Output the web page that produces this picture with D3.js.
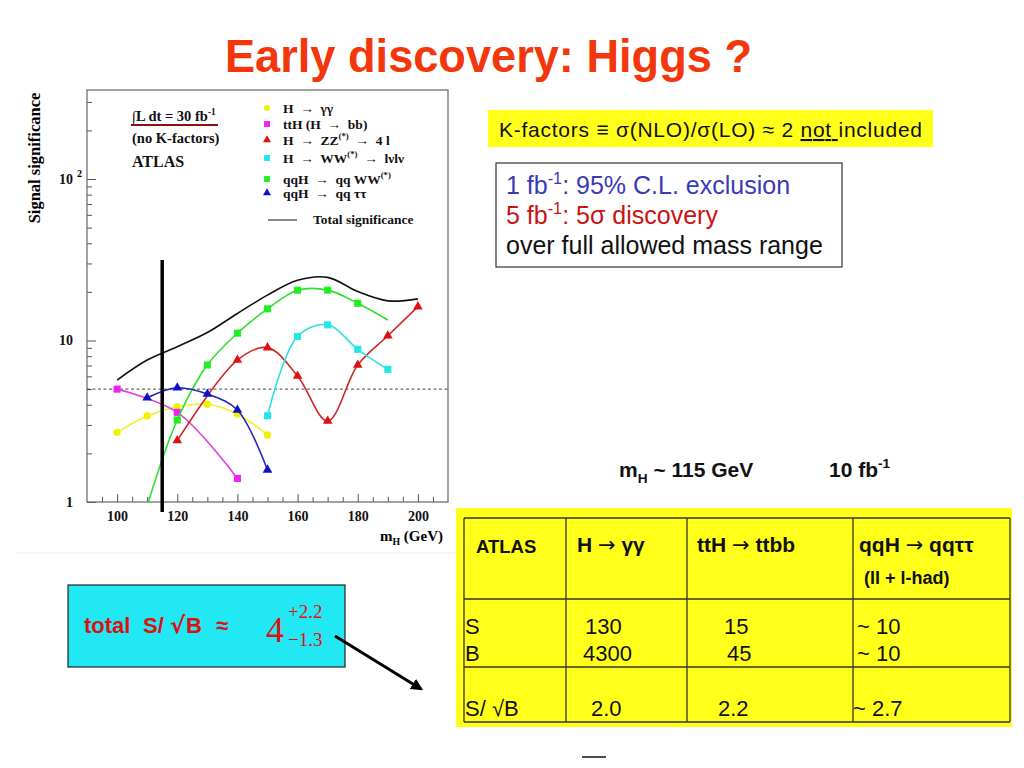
<!DOCTYPE html>
<html>
<head>
<meta charset="utf-8">
<script src="https://cdn.jsdelivr.net/npm/d3@7"></script>
<style>
  body { margin: 0; background: #fff; }
  svg { display: block; }
  text { white-space: pre; }
</style>
</head>
<body>
<svg id="slide" width="1024" height="768"></svg>
<script>
// signal significance vs m_H (30 fb-1)
var massGamma = [100, 110, 120, 130, 140, 150];
var sigGamma = [2.70, 3.41, 3.89, 4.03, 3.51, 2.60];

var massTtH = [100, 120, 140];
var sigTtH = [5.0, 3.59, 1.40];

var massZZ = [120, 140, 150, 160, 170, 180, 190, 200];
var sigZZ = [2.40, 7.57, 9.03, 6.03, 3.17, 7.05, 10.7, 16.2];

var massWW = [150, 160, 170, 180, 190];
var sigWW = [3.42, 10.6, 12.5, 8.82, 6.63];

var massVbfWW = [110, 120, 130, 140, 150, 160, 170, 180, 190];
var sigVbfWW = [0.95, 3.22, 7.05, 11.1, 15.7, 20.5, 20.5, 17.0, 13.4];

var massVbfTau = [110, 120, 130, 140, 150];
var sigVbfTau = [4.42, 5.10, 4.66, 3.71, 1.58];

var massTotal = [100, 110, 120, 130, 140, 150, 160, 170, 180, 190, 200];
var sigTotal = [5.69, 7.57, 9.16, 11.2, 14.7, 19.1, 23.6, 24.6, 20.1, 17.6, 18.1];

var discoveryLevel = 5;
var lepMassLimit = 115;

var xTickLabels = [100, 120, 140, 160, 180, 200];
var yTickLabels = [1, 10, 100];

// table on the right
var tableHead = [["ATLAS"], ["H ", ["\u2192", "sym"], [" \u03b3\u03b3", "n"]], ["ttH ", ["\u2192", "sym"], [" ttbb", "n"]],
                 ["qqH ", ["\u2192", "sym"], [" qq\u03c4\u03c4", "n"]]];
var rowS = ["130", "15", "~ 10"];
var rowB = ["4300", "45", "~ 10"];
var rowSoverB = ["2.0", "2.2", "~ 2.7"];

var svg = d3.select("#slide");
var sans = "Liberation Sans, Arial, Helvetica, sans-serif";
var serif = "Liberation Serif, Times New Roman, serif";

// small helper: text with super/subscripts
function richText(g, x, y, parts, fs) {
    var t = g.append("text").attr("x", x).attr("y", y).attr("font-size", fs);
    var shift = 0;
    parts.forEach(function(p) {
        var str = typeof p === "string" ? p : p[0];
        var mode = typeof p === "string" ? "n" : p[1];
        var target = mode == "sup" ? -fs * 0.42 : mode == "sub" ? fs * 0.28 : 0;
        var ts = t.append("tspan").attr("dy", target - shift).text(str);
        if (mode == "sup" || mode == "sub") ts.attr("font-size", fs * 0.65);
        if (mode == "u") ts.attr("text-decoration", "underline");
        if (mode == "sym") ts.attr("font-family", "DejaVu Sans").attr("font-weight", "normal");
        shift = target;
    });
    return t;
}

// title
svg.append("text")
    .attr("x", 225).attr("y", 72)
    .attr("font-family", sans).attr("font-weight", "bold")
    .attr("font-size", 46).attr("fill", "#f4360c")
    .attr("textLength", 527).attr("lengthAdjust", "spacingAndGlyphs")
    .text("Early discovery: Higgs ?");

// faint edge of the pasted plot
svg.append("line").attr("x1", 15).attr("x2", 455).attr("y1", 553).attr("y2", 553)
    .attr("stroke", "#ececec");

//Plot area
var pL = 87, pR = 448, pT = 90, pB = 502;
var x = d3.scaleLinear().domain([90, 210]).range([pL, pR]);
var y = d3.scaleLog().domain([1, Math.pow(10, (pB - pT) / 161.5)]).range([pB, pT]);

var plot = svg.append("g").attr("id", "plot");

svg.append("clipPath").attr("id", "clip")
    .append("rect").attr("x", pL).attr("y", pT).attr("width", pR - pL).attr("height", pB - pT);

// x ticks (inside)
var xMinor = d3.range(95, 210, 5).filter(function(d) { return d % 20 != 0; });
plot.append("g").attr("transform", "translate(0," + pB + ")")
    .call(d3.axisBottom(x).tickValues(xMinor).tickSize(-5).tickFormat(""))
    .call(function(g) { g.select(".domain").remove(); g.selectAll("line").attr("stroke", "#555"); });
plot.append("g").attr("transform", "translate(0," + pB + ")")
    .call(d3.axisBottom(x).tickValues(xTickLabels).tickSize(-8).tickPadding(9).tickFormat(d3.format("d")))
    .call(function(g) {
        g.select(".domain").remove();
        g.selectAll("line").attr("stroke", "#555");
        g.selectAll("text").attr("font-family", serif).attr("font-weight", "bold")
            .attr("font-size", 14).attr("fill", "#111");
    });

// y ticks (log, inside)
var yMinor = [];
[1, 10, 100].forEach(function(dec) {
    for (var k = 2; k <= 9; k++) if (dec * k < y.domain()[1]) yMinor.push(dec * k);
});
plot.append("g").attr("transform", "translate(" + pL + ",0)")
    .call(d3.axisLeft(y).tickValues(yMinor).tickSize(-5).tickFormat(""))
    .call(function(g) { g.select(".domain").remove(); g.selectAll("line").attr("stroke", "#555"); });
plot.append("g").attr("transform", "translate(" + pL + ",0)")
    .call(d3.axisLeft(y).tickValues(yTickLabels).tickSize(-9).tickPadding(14)
        .tickFormat(function(d) { return d == 100 ? "10" : d3.format("d")(d); }))
    .call(function(g) {
        g.select(".domain").remove();
        g.selectAll("line").attr("stroke", "#555");
        g.selectAll("text").attr("font-family", serif).attr("font-weight", "bold")
            .attr("font-size", 14).attr("fill", "#111");
    });
plot.append("text").attr("x", 77).attr("y", y(100) - 2)
    .attr("font-family", serif).attr("font-weight", "bold").attr("font-size", 10)
    .text("2");

plot.append("rect").attr("x", pL).attr("y", pT).attr("width", pR - pL).attr("height", pB - pT)
    .attr("fill", "none").attr("stroke", "#666").attr("stroke-width", 1.2);

// axis titles
plot.append("text")
    .attr("transform", "translate(40,158) rotate(-90)")
    .attr("text-anchor", "middle")
    .attr("font-family", serif).attr("font-weight", "bold").attr("font-size", 16.5)
    .text("Signal significance");
richText(plot, 380, 541, ["m", ["H", "sub"], " (GeV)"], 15)
    .attr("font-family", serif).attr("font-weight", "bold");

// 5 sigma line
plot.append("line")
    .attr("x1", pL).attr("x2", pR).attr("y1", y(discoveryLevel)).attr("y2", y(discoveryLevel))
    .attr("stroke", "#333").attr("stroke-width", 0.9).attr("stroke-dasharray", "3,2.5");

var series = [
    {mass: massGamma, sig: sigGamma, line: "#f0f030", fill: "#f2f200", shape: d3.symbolCircle, size: 42},
    {mass: massTtH, sig: sigTtH, line: "#e040e0", fill: "#f020f0", shape: d3.symbolSquare, size: 50},
    {mass: massZZ, sig: sigZZ, line: "#d02828", fill: "#e01010", shape: d3.symbolTriangle, size: 40},
    {mass: massWW, sig: sigWW, line: "#30e0e0", fill: "#20e8e8", shape: d3.symbolSquare, size: 50},
    {mass: massVbfWW, sig: sigVbfWW, line: "#30dd30", fill: "#20ee20", shape: d3.symbolSquare, size: 50, hide: [190]},
    {mass: massVbfTau, sig: sigVbfTau, line: "#2424b8", fill: "#1010cc", shape: d3.symbolTriangle, size: 40}
];

var lineGen = d3.line()
    .x(function(d) { return x(d[0]); })
    .y(function(d) { return y(d[1]); })
    .curve(d3.curveCatmullRom.alpha(0.5));

var curves = plot.append("g").attr("clip-path", "url(#clip)");

curves.append("path")
    .datum(d3.zip(massTotal, sigTotal))
    .attr("d", lineGen).attr("fill", "none")
    .attr("stroke", "#111").attr("stroke-width", 1.6);

series.forEach(function(s) {
    var pts = d3.zip(s.mass, s.sig);
    curves.append("path").datum(pts).attr("d", lineGen)
        .attr("fill", "none").attr("stroke", s.line).attr("stroke-width", 1.6);
    curves.selectAll(null)
        .data(pts.filter(function(p) { return !(s.hide && s.hide.indexOf(p[0]) >= 0); }))
        .enter().append("path")
        .attr("transform", function(p) { return "translate(" + x(p[0]) + "," + y(p[1]) + ")"; })
        .attr("d", d3.symbol().type(s.shape).size(s.size))
        .attr("fill", s.fill);
});

// LEP limit bar
plot.append("line")
    .attr("x1", x(lepMassLimit)).attr("x2", x(lepMassLimit))
    .attr("y1", 260).attr("y2", 512)
    .attr("stroke", "#000").attr("stroke-width", 3.5);

// legend
var leg = plot.append("g").attr("font-family", serif).attr("font-weight", "bold").attr("fill", "#111");
var legRows = [
    {y: 108, parts: ["H  \u2192  \u03b3\u03b3"]},
    {y: 124, parts: ["ttH (H  \u2192  bb)"]},
    {y: 140, parts: ["H  \u2192  ZZ", ["(*)", "sup"], ["  \u2192  4 l", "n"]]},
    {y: 158, parts: ["H  \u2192  WW", ["(*)", "sup"], ["  \u2192  l\u03bdl\u03bd", "n"]]},
    {y: 179, parts: ["qqH  \u2192  qq WW", ["(*)", "sup"]]},
    {y: 193, parts: ["qqH  \u2192  qq \u03c4\u03c4"]}
];
legRows.forEach(function(r, i) {
    leg.append("path")
        .attr("transform", "translate(267," + r.y + ")")
        .attr("d", d3.symbol().type(series[i].shape).size(series[i].size * 0.7))
        .attr("fill", series[i].fill);
    richText(leg, 283, r.y + 4.5, r.parts, 13.5);
});
leg.append("line").attr("x1", 268).attr("x2", 297).attr("y1", 220).attr("y2", 220)
    .attr("stroke", "#111").attr("stroke-width", 1);
leg.append("text").attr("x", 313).attr("y", 224).attr("font-size", 13.5).text("Total significance");

var info = plot.append("g").attr("font-family", serif).attr("font-weight", "bold").attr("fill", "#111");
richText(info, 132, 121, ["\u222bL dt = 30 fb", ["-1", "sup"]], 14.5);
info.append("line").attr("x1", 131).attr("x2", 218).attr("y1", 125).attr("y2", 125)
    .attr("stroke", "#8b1010").attr("stroke-width", 2.2);
info.append("text").attr("x", 132).attr("y", 143).attr("font-size", 14.5).text("(no K-factors)");
info.append("text").attr("x", 132).attr("y", 167).attr("font-size", 16).text("ATLAS");

// K-factor note
svg.append("rect").attr("x", 488).attr("y", 110).attr("width", 445).attr("height", 37).attr("fill", "#ffff1a");
richText(svg, 499, 137, ["K-factors \u2261 \u03c3(NLO)/\u03c3(LO) \u2248 2 ", ["not ", "u"], ["included", "n"]], 21)
    .attr("font-family", sans).attr("fill", "#111")
    .attr("textLength", 423).attr("lengthAdjust", "spacing");

// luminosity box
svg.append("rect").attr("x", 496).attr("y", 163).attr("width", 346).attr("height", 104)
    .attr("fill", "#fff").attr("stroke", "#333").attr("stroke-width", 1.2);
richText(svg, 506, 194, ["1 fb", ["-1", "sup"], [": 95% C.L. exclusion", "n"]], 25)
    .attr("font-family", sans).attr("fill", "#3a3ab8");
richText(svg, 506, 224, ["5 fb", ["-1", "sup"], [": 5\u03c3 discovery", "n"]], 25)
    .attr("font-family", sans).attr("fill", "#cc1111");
svg.append("text").attr("x", 506).attr("y", 254).attr("font-family", sans).attr("font-size", 25)
    .attr("fill", "#111").text("over full allowed mass range");

// m_H ~ 115 GeV, 10 fb-1
richText(svg, 619, 477, ["m", ["H", "sub"], [" ~ 115 GeV", "n"]], 21)
    .attr("font-family", sans).attr("font-weight", "bold").attr("fill", "#111");
richText(svg, 829, 477, ["10 fb", ["-1", "sup"]], 21)
    .attr("font-family", sans).attr("font-weight", "bold").attr("fill", "#111");

// table
var tab = svg.append("g").attr("font-family", sans).attr("fill", "#111");
tab.append("rect").attr("x", 456).attr("y", 508).attr("width", 556).attr("height", 219).attr("fill", "#ffff1a");
var colX = [464, 566, 687, 853, 1010];
var rowY = [518, 599, 667, 722];
rowY.forEach(function(ry) {
    tab.append("line").attr("x1", colX[0]).attr("x2", colX[4]).attr("y1", ry).attr("y2", ry)
        .attr("stroke", "#333").attr("stroke-width", 1.3);
});
colX.forEach(function(cx) {
    tab.append("line").attr("x1", cx).attr("x2", cx).attr("y1", rowY[0]).attr("y2", rowY[3])
        .attr("stroke", "#333").attr("stroke-width", 1.3);
});
var headX = [476, 577, 697, 859];
tableHead.forEach(function(h, i) {
    richText(tab, headX[i], i == 0 ? 553 : 552, h, i == 0 ? 18.5 : 21).attr("font-weight", "bold");
});
tab.append("text").attr("x", 864).attr("y", 584).attr("font-weight", "bold").attr("font-size", 18)
    .text("(ll + l-had)");

tab.append("text").attr("x", 465).attr("y", 634).attr("font-size", 22).text("S");
tab.append("text").attr("x", 465).attr("y", 661).attr("font-size", 22).text("B");
tab.append("text").attr("x", 465).attr("y", 716).attr("font-size", 22).text("S/ \u221aB");
var sX = [585, 724, 857], bX = [583, 727, 857], rX = [591, 718, 853];
rowS.forEach(function(v, i) { tab.append("text").attr("x", sX[i]).attr("y", 634).attr("font-size", 22).text(v); });
rowB.forEach(function(v, i) { tab.append("text").attr("x", bX[i]).attr("y", 661).attr("font-size", 22).text(v); });
rowSoverB.forEach(function(v, i) { tab.append("text").attr("x", rX[i]).attr("y", 716).attr("font-size", 22).text(v); });

svg.append("line").attr("x1", 582).attr("x2", 606).attr("y1", 757).attr("y2", 757)
    .attr("stroke", "#111").attr("stroke-width", 1.5);

// total S/sqrt(B) box
svg.append("rect").attr("x", 68).attr("y", 585).attr("width", 277).attr("height", 82)
    .attr("fill", "#22e8f4").attr("stroke", "#222").attr("stroke-width", 1.2);
var tot = svg.append("g").attr("font-family", sans).attr("font-weight", "bold")
    .attr("font-size", 22).attr("fill", "#dd1111");
tot.append("text").attr("x", 84).attr("y", 633).text("total");
tot.append("text").attr("x", 143).attr("y", 633).text("S/");
tot.append("text").attr("x", 170).attr("y", 633).attr("font-family", "DejaVu Sans").attr("font-size", 23).text("\u221a");
tot.append("text").attr("x", 186).attr("y", 633).text("B");
tot.append("text").attr("x", 216).attr("y", 633).text("\u2248");
svg.append("text").attr("x", 266).attr("y", 642).attr("font-family", serif)
    .attr("font-size", 36).attr("fill", "#dd1111").text("4");
svg.append("text").attr("x", 288).attr("y", 618).attr("font-family", serif)
    .attr("font-size", 19).attr("fill", "#dd1111").text("+2.2");
svg.append("text").attr("x", 288).attr("y", 646).attr("font-family", serif)
    .attr("font-size", 19).attr("fill", "#dd1111").text("\u22121.3");

// arrow to the table
svg.append("defs").append("marker").attr("id", "head")
    .attr("viewBox", "0 0 10 10").attr("refX", 8).attr("refY", 5)
    .attr("markerWidth", 4).attr("markerHeight", 4).attr("orient", "auto")
    .append("path").attr("d", "M0,0L10,5L0,10z").attr("fill", "#000");
svg.append("line").attr("x1", 335).attr("y1", 636).attr("x2", 421).attr("y2", 689)
    .attr("stroke", "#000").attr("stroke-width", 3).attr("marker-end", "url(#head)");
</script>
</body>
</html>
